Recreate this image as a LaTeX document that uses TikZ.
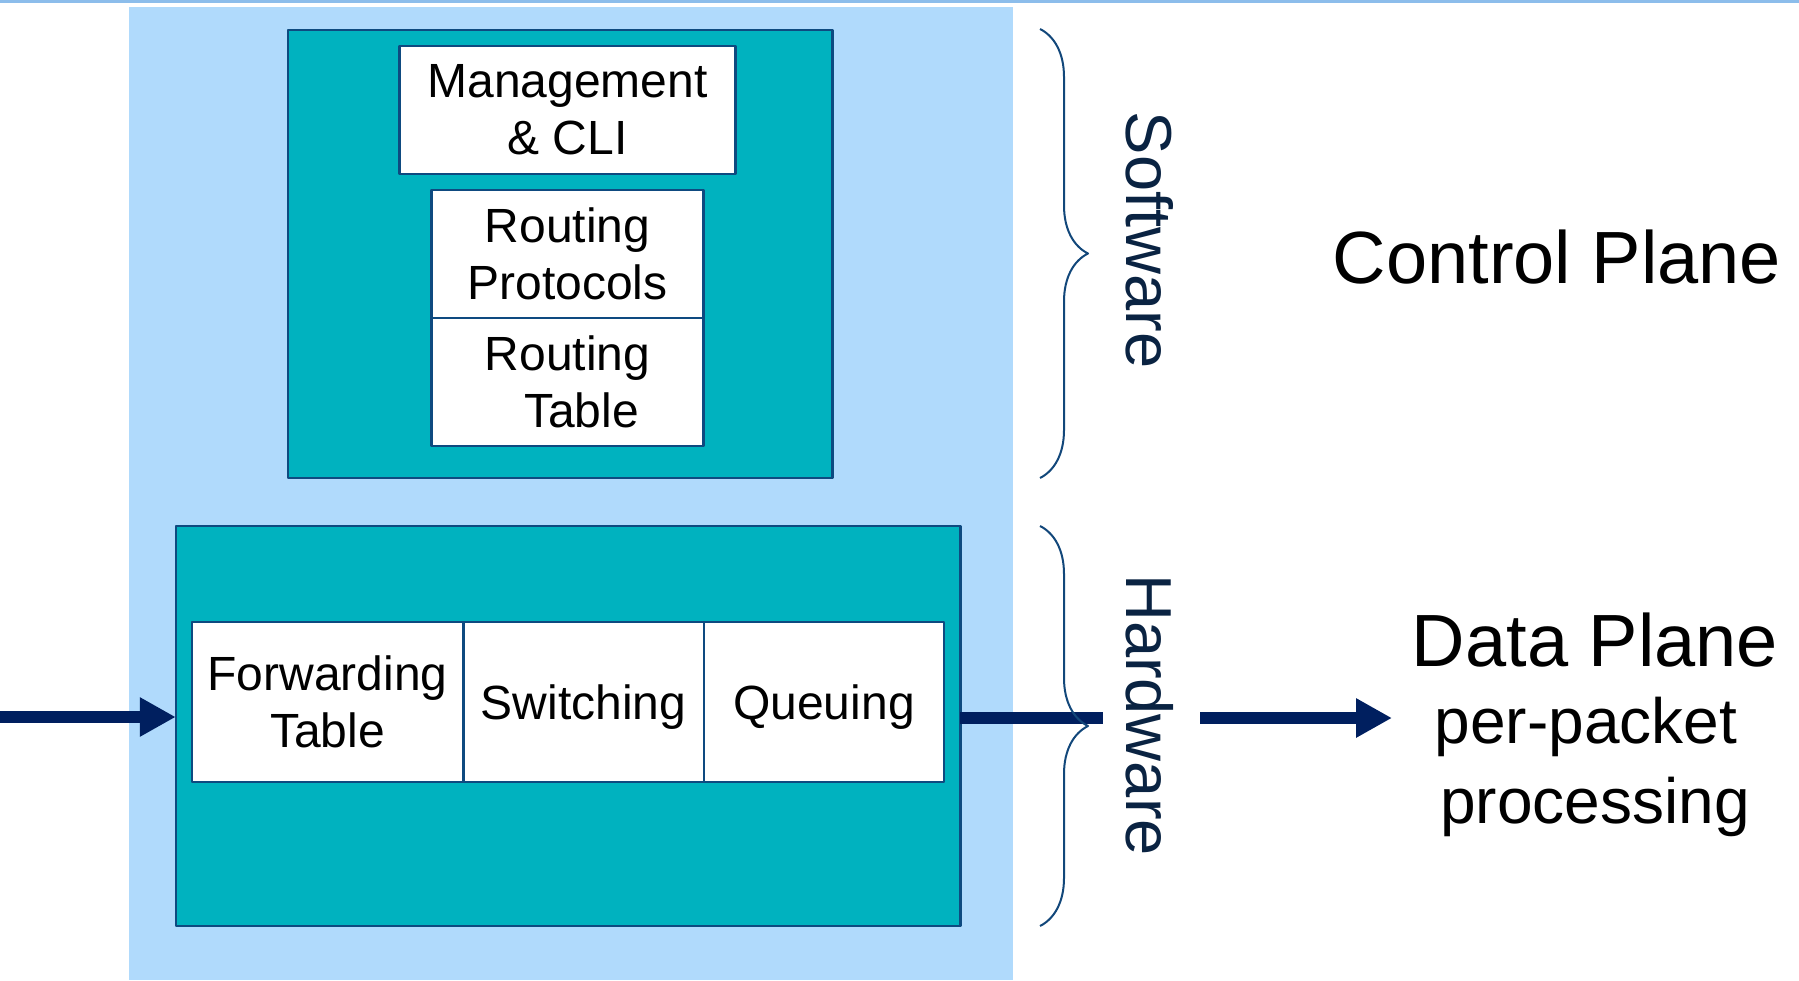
\documentclass[tikz,border=0pt]{standalone}
\usepackage{fontspec}
\setmainfont{Liberation Sans}
\usetikzlibrary{positioning,arrows.meta,decorations.pathreplacing}
\definecolor{skyback}{HTML}{B0DAFC}
\definecolor{tealfill}{HTML}{00B2BF}
\definecolor{boxline}{HTML}{0E4A80}
\definecolor{arrownavy}{HTML}{001F5F}
\definecolor{bracenavy}{HTML}{12477A}
\definecolor{labelnavy}{HTML}{0A2342}
\definecolor{rulesky}{HTML}{8CBDEB}
\begin{document}
\begin{tikzpicture}[x=1pt, y=-1pt, line join=round,
	tealbox/.style={draw=boxline, line width=2.5pt, fill=tealfill, outer sep=0pt},
	whitebox/.style={draw=boxline, line width=2.5pt, fill=white, outer sep=0pt, inner sep=0pt, align=center, font={\fontsize{48}{57}\selectfont}},
	side/.style={text=labelnavy, rotate=-90, inner sep=0pt, font={\fontsize{65}{72}\selectfont}},
	plane/.style={inner sep=0pt, font={\fontsize{74}{86}\selectfont}},
	pkt/.style={inner sep=0pt, font={\fontsize{64}{70}\selectfont}},
	pipe/.style={arrownavy, line width=12pt},
	flow/.style={pipe, -{Triangle[length=36pt,width=37pt]}},
	brace/.style={bracenavy, line width=2pt, decorate, decoration={brace, amplitude=48pt}}]
	\useasboundingbox (0,0) rectangle (1799,980);
	\fill[rulesky] (0,0) rectangle (1799,3);
	\fill[skyback] (128.5,6.7) rectangle (1013,980);
	% control plane (software)
	\node[tealbox, minimum width=544.5pt, minimum height=448pt] (cbox) at (560,254) {};
	\node[whitebox, minimum width=336pt, minimum height=128pt] (mgmt) at (567.5,110) {Management\\\& CLI};
	\node[whitebox, minimum width=272pt, minimum height=128pt] (proto) at (567.5,254) {Routing\\Protocols};
	\node[whitebox, minimum width=272pt, minimum height=128pt, below=0pt of proto] (rtable) {Routing\\\hspace*{28pt}Table};
	% data plane (hardware)
	\node[tealbox, minimum width=784.5pt, minimum height=400.3pt] (dbox) at (568,726) {};
	\node[whitebox, minimum width=271.4pt, minimum height=159.7pt] (fwd) at (327.6,702) {Forwarding\\Table};
	\node[whitebox, minimum width=240.7pt, minimum height=159.7pt, text depth=0pt, right=0pt of fwd] (switch) {Switching};
	\node[whitebox, minimum width=240pt, minimum height=159.7pt, text depth=0pt, right=0pt of switch] (queue) {Queuing};
	% packets in and out
	\coordinate (src) at (0,717);
	\coordinate (cut) at (1103,718);
	\coordinate (resume) at (1200,718);
	\coordinate (dest) at (1392,718);
	\draw[flow] (src) -- (dbox.west |- src);
	\draw[pipe] (dbox.east |- cut) -- (cut);
	\draw[flow] (resume) -- (dest);
	% braces
	\draw[brace] (1040,29) -- (1040,478);
	\draw[brace] (1040,526) -- (1040,926);
	\node[side] (sw) at (1150,240) {Software};
	\node[side] (hw) at (1150,715) {Hardware};
	% plane labels
	\node[plane, anchor=base] (ctrl) at (1557,283) {Control Plane};
	\node[plane, anchor=base] (data) at (1595,666) {Data Plane};
	\node[pkt, anchor=base] (perpkt) at (1586,743) {per-packet};
	\node[pkt, anchor=base] (proc) at (1595,823) {processing};
\end{tikzpicture}
\end{document}
